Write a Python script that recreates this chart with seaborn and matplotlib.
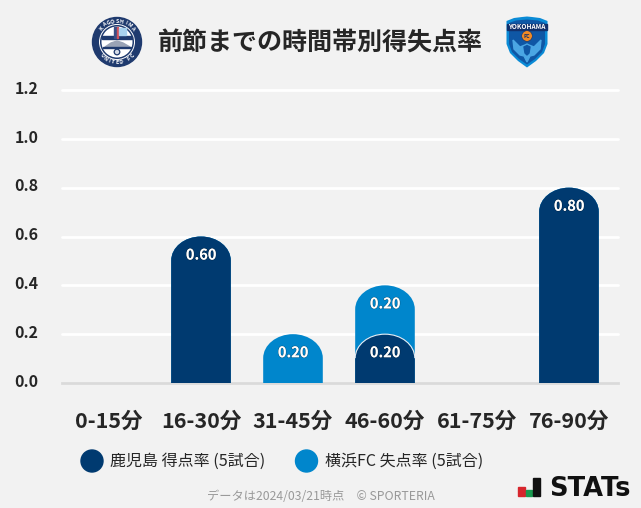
import numpy as np
import pandas as pd
import seaborn as sns
import matplotlib.pyplot as plt
import matplotlib.patheffects as pe
from matplotlib.patches import Circle, Polygon, PathPatch, Rectangle
from matplotlib.path import Path
from matplotlib.transforms import ScaledTranslation

periods = ['0-15分', '16-30分', '31-45分', '46-60分', '61-75分', '76-90分']
home_rate = [0.0, 0.6, 0.0, 0.2, 0.0, 0.8]
away_rate = [0.0, 0.0, 0.2, 0.2, 0.0, 0.0]
y_ticks = [0.0, 0.2, 0.4, 0.6, 0.8, 1.0, 1.2]

title = '前節までの時間帯別得失点率'
home_label = '鹿児島 得点率 (5試合)'
away_label = '横浜FC 失点率 (5試合)'
footer = 'データは2024/03/21時点　© SPORTERIA'

NAVY = '#003a70'
BLUE = '#0086cc'
BG = '#f2f2f2'
DARK = '#262626'

sns.set_theme(style='white')
plt.rcParams['font.family'] = ['Noto Sans CJK JP', 'DejaVu Sans']

df = pd.DataFrame({'period': periods, 'home': home_rate, 'away': away_rate})
df['total'] = df['home'] + df['away']

fig = plt.figure(figsize=(6.41, 5.08), dpi=100, facecolor=BG)
ax = fig.add_axes([62 / 641, 1 - 383 / 508, 556 / 641, 293 / 508], facecolor=BG)

# stacked: total in the away colour behind, home in front
sns.barplot(data=df, x='period', y='total', color=BLUE, saturation=1, width=0.648, ax=ax)
n_back = len(ax.patches)
sns.barplot(data=df, x='period', y='home', color=NAVY, saturation=1, width=0.648, ax=ax)

ax.set_xlim(-0.511, 5.533)
ax.set_ylim(0, 1.2)
ax.set_yticks(y_ticks)
ax.set_yticklabels([f'{t:.1f}' for t in y_ticks], fontsize=11.5, fontweight='bold', color=DARK)
ax.set_xlabel('')
ax.set_ylabel('')
ax.tick_params(axis='y', length=0, pad=17)
ax.tick_params(axis='x', length=0, pad=20)
nudge = ScaledTranslation(0, 2 / 72, fig.dpi_scale_trans)
for lab in ax.get_yticklabels():
    lab.set_transform(lab.get_transform() + nudge)
for lab in ax.get_xticklabels():
    lab.set_fontsize(15.5)
    lab.set_fontweight('bold')
    lab.set_color(DARK)
ax.grid(axis='y', color='white', lw=2, zorder=0)
ax.set_axisbelow(True)
for gl in ax.get_ygridlines():
    gl.set_clip_on(False)
sns.despine(ax=ax, left=True, top=True, right=True)
ax.spines['bottom'].set_color('#dadada')
ax.spines['bottom'].set_linewidth(2)

# swap the square bars for ones with a domed top, same position and height
dome = 24 / (293 / 1.2)
K = 0.5523
for i, bar in enumerate(list(ax.patches)):
    h = bar.get_height()
    bar.set_visible(False)
    if h <= 0:
        continue
    x0, w = bar.get_x(), bar.get_width()
    x1 = x0 + w
    xm = x0 + w / 2
    shoulder = h - dome
    top_verts = [(x0, shoulder),
                 (x0, shoulder + K * dome), (xm - K * w / 2, h), (xm, h),
                 (xm + K * w / 2, h), (x1, shoulder + K * dome), (x1, shoulder)]
    top_codes = [Path.MOVETO] + [Path.CURVE4] * 6
    verts = top_verts + [(x1, 0), (x0, 0), (x0, shoulder)]
    codes = top_codes + [Path.LINETO, Path.LINETO, Path.CLOSEPOLY]
    front = i >= n_back
    color = NAVY if front else BLUE
    ax.add_patch(PathPatch(Path(verts, codes), facecolor=color, edgecolor='none', zorder=4 if front else 3))
    if front and df['away'].iloc[i - n_back] > 0:
        # thin light outline where navy sits on the blue
        ax.add_patch(PathPatch(Path(top_verts, top_codes), facecolor='none',
                               edgecolor='#e6eef5', lw=0.8, zorder=5))


def bar_label(x, top, val):
    t = ax.annotate(f'{val:.2f}', (x, top), xytext=(0, -13), textcoords='offset points',
                    ha='center', va='center', color='white', fontsize=10.5, fontweight='bold', zorder=6)
    t.set_path_effects([pe.withStroke(linewidth=0.8, foreground='#00000055')])


for i, row in df.iterrows():
    if row['home'] > 0:
        bar_label(i, row['home'], row['home'])
    if row['away'] > 0:
        bar_label(i, row['total'], row['away'])

# overlay in pixel coordinates for title, logos, legend, footer
ov = fig.add_axes([0, 0, 1, 1], facecolor='none')
ov.set_xlim(0, 641)
ov.set_ylim(508, 0)
ov.axis('off')

ov.text(320.5, 43, title, ha='center', va='center', fontsize=18, fontweight='bold', color=DARK)


def arc_text(word, cx, cy, r, start, step, flip=False):
    # one letter at a time round the badge ring
    for k, ch in enumerate(word):
        a = np.radians(start + k * step)
        x, y = cx + r * np.sin(a), cy - r * np.cos(a)
        rot = -np.degrees(a) + (180 if flip else 0)
        ov.text(x, y, ch, ha='center', va='center', rotation=rot, rotation_mode='anchor',
                fontsize=3.9, fontweight='bold', color='white')


# Kagoshima badge
ov.add_patch(Circle((117, 42), 24.5, color='#1f3a6e'))
ov.add_patch(Circle((117, 42), 17.5, fc='#1f3a6e', ec='white', lw=0.7))
ov.add_patch(Circle((117, 42), 15.5, fc='white', ec='none'))
ov.add_patch(Rectangle((102, 35.5), 30, 3.2, color='#1f3a6e'))
ov.add_patch(Rectangle((114, 27), 2.5, 11, color='#3a4f85'))
ov.add_patch(Rectangle((116.5, 27), 1.8, 11, color='#d0505a'))
ov.add_patch(Rectangle((119, 27.5), 7, 7, color='#a9d2ee'))
ov.add_patch(Polygon([(105, 47), (111, 43), (117, 41), (123, 43), (130, 47)], color='#9aa3b5'))
ov.add_patch(Rectangle((103, 47), 28, 1.2, color='#1f3a6e'))
ov.add_patch(Circle((117, 52), 2.8, fc='#d5dbe6', ec='#1f3a6e', lw=0.9))
arc_text('KAGOSHIMA', 117, 42, 20.7, -48, 12)
arc_text('UNITED FC', 117, 42, 20.7, 228, -12, flip=True)

# Yokohama badge
ov.add_patch(Polygon([(506.5, 21), (514, 18), (522, 17), (527, 16.5), (532, 17), (540, 18), (547.5, 21),
                      (547.5, 44), (544, 53), (536, 61), (527, 67.5), (518, 61), (510, 53), (506.5, 44)],
                     fc='#0a8bd6', ec='none'))
ov.add_patch(Polygon([(509, 23), (516, 20.5), (527, 19.5), (538, 20.5), (545, 23), (545, 44), (542, 52),
                      (535, 59), (527, 64.5), (519, 59), (512, 52), (509, 44)], fc='#0f57a5', ec='none'))
ov.add_patch(Rectangle((507, 23.5), 40, 6.3, color='#12306b'))
ov.text(527, 26.7, 'YOKOHAMA', ha='center', va='center', fontsize=4.7, fontweight='bold', color='white')
ov.add_patch(Circle((527, 36), 5.3, fc='#f08a24', ec='#12306b', lw=0.4))
ov.text(527, 36, 'FC', ha='center', va='center', fontsize=3.8, fontweight='bold', color='#12306b')
ov.add_patch(Polygon([(513, 40), (520, 47), (525, 45), (527, 44), (529, 45), (534, 47), (541, 40), (540, 49),
                      (534, 55), (530, 56), (527, 62), (524, 56), (520, 55), (514, 49)], color='#4aa6e4'))
ov.add_patch(Polygon([(524, 47), (527, 45.5), (530, 47), (529, 53), (527, 55), (525, 53)], color='#0f57a5'))

# legend
ov.add_patch(Circle((92, 461), 11, color=NAVY))
ov.text(110, 461, home_label, ha='left', va='center', fontsize=11.5, color=DARK)
ov.add_patch(Circle((306.5, 461), 11, color=BLUE))
ov.text(325, 461, away_label, ha='left', va='center', fontsize=11.5, color=DARK)

ov.text(320.5, 497, footer, ha='center', va='center', fontsize=8.8, color='#999999')

# STATs mark
ov.add_patch(Rectangle((518, 487), 6.5, 9, color='#d7262d'))
ov.add_patch(Rectangle((526, 489.5), 5.5, 6.5, color='#1a9a50'))
ov.add_patch(Rectangle((533, 478), 7, 18, color='#111111'))
ov.text(549, 496, 'STATs', ha='left', va='baseline', fontsize=18.5, fontweight='bold',
        family='DejaVu Sans', color='#111111')

fig.savefig('out.png', dpi=100, facecolor=BG)
